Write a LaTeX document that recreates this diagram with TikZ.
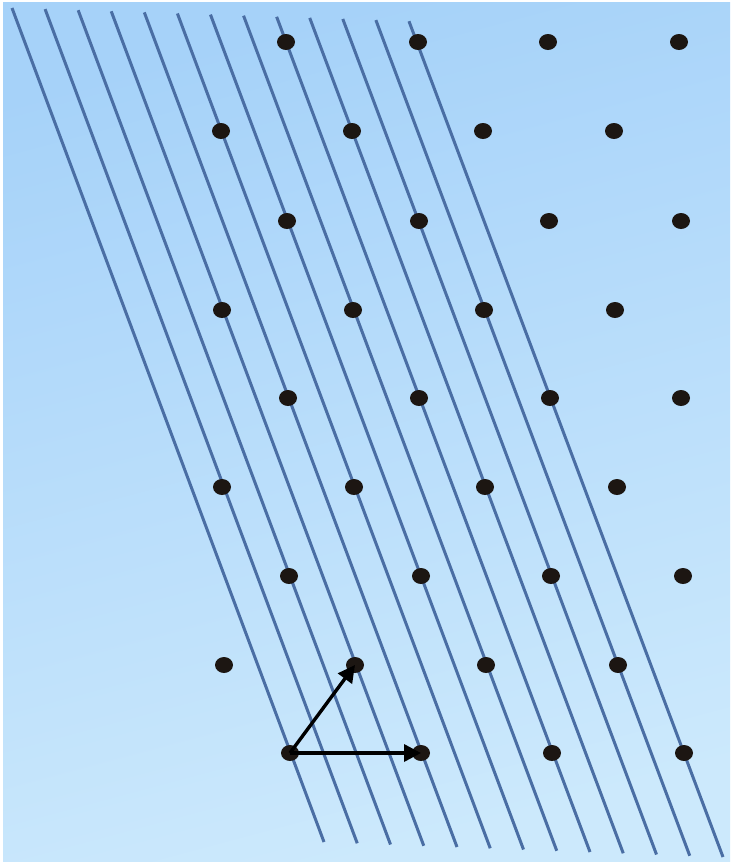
\documentclass[tikz,border=0pt]{standalone}
\usetikzlibrary{shapes.geometric,arrows.meta}
\definecolor{bgtop}{RGB}{166,210,249}
\definecolor{bgbot}{RGB}{204,233,252}
\definecolor{linecol}{RGB}{74,110,164}
\definecolor{dotcol}{RGB}{28,22,18}
\tikzset{
  latdot/.style={ellipse,fill=dotcol,inner sep=0pt,minimum width=18pt,minimum height=16pt},
  latline/.style={draw=linecol,line width=3pt},
  vecarrow/.style={draw=black,line width=3.4pt,-{Triangle[length=17pt,width=17pt]}}
}
\begin{document}
\begin{tikzpicture}[x=1pt,y=-1pt]
\useasboundingbox (0,0) rectangle (732,863);
\fill[white] (0,0) rectangle (732,863);
\shade[top color=bgtop,bottom color=bgbot,shading angle=15] (3,2) rectangle (730,861);
% parallel lines
\foreach \i in {0,...,12}{
  \draw[latline] ({12+33.08*\i},{8+1.1*\i}) -- ({324+33.25*\i},{842+1.25*\i});
}
% dots
\foreach \r/\y/\xa/\xb/\xc/\xd in {
 0/42/286/418/548/679,
 1/131/221/352/483/614,
 2/221/287/419/549/681,
 3/310/222/353/484/615,
 4/398/288/419/550/681,
 5/487/222/354/485/617,
 6/576/289/421/551/683,
 7/665/224/355/486/618,
 8/753/290/421/552/684}{
  \node[latdot] (d\r0) at (\xa,\y) {};
  \node[latdot] (d\r1) at (\xb,\y) {};
  \node[latdot] (d\r2) at (\xc,\y) {};
  \node[latdot] (d\r3) at (\xd,\y) {};
}
% basis vectors
\draw[vecarrow] (d80.center) -- (d71.center);
\draw[vecarrow] (d80.center) -- (d81.center);
\end{tikzpicture}
\end{document}
